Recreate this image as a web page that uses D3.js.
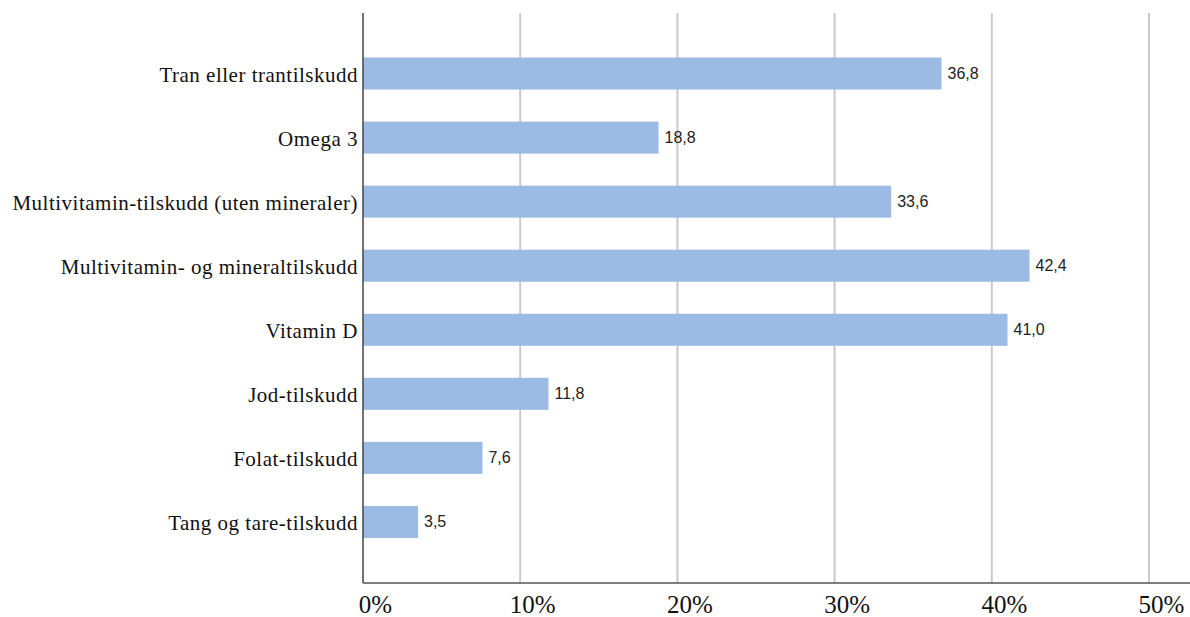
<!DOCTYPE html>
<html>
<head>
<meta charset="utf-8">
<script src="https://cdn.jsdelivr.net/npm/d3@7/dist/d3.min.js"></script>
<style>
  html, body { margin: 0; padding: 0; background: #fff; }
  svg { display: block; }
</style>
</head>
<body>
<svg id="chart" width="1190" height="617"></svg>
<script>
// Supplement categories (top to bottom) and share of users, in percent
const categories = [
  "Tran eller trantilskudd",
  "Omega 3",
  "Multivitamin-tilskudd (uten mineraler)",
  "Multivitamin- og mineraltilskudd",
  "Vitamin D",
  "Jod-tilskudd",
  "Folat-tilskudd",
  "Tang og tare-tilskudd"
];
const values = [36.8, 18.8, 33.6, 42.4, 41.0, 11.8, 7.6, 3.5];
const tickValues = [0, 10, 20, 30, 40, 50];
const tickLabels = ["0%", "10%", "20%", "30%", "40%", "50%"];

const svg = d3.select("#chart");

const plot = { left: 363, right: 1190, top: 13, bottom: 583 };

const x = d3.scaleLinear().domain([0, 50]).range([363, 1149]);
const y = d3.scaleBand()
  .domain(categories)
  .range([41.5, 554])
  .paddingInner(0.5)
  .paddingOuter(0.25);

// Vertical gridlines
svg.append("g")
  .selectAll("line")
  .data(tickValues.slice(1))
  .join("line")
  .attr("x1", d => x(d)).attr("x2", d => x(d))
  .attr("y1", plot.top).attr("y2", plot.bottom)
  .attr("stroke", "#cacaca")
  .attr("stroke-width", 2);

// Bars
svg.append("g")
  .selectAll("rect")
  .data(values)
  .join("rect")
  .attr("x", x(0))
  .attr("y", (d, i) => y(categories[i]))
  .attr("width", d => x(d) - x(0))
  .attr("height", y.bandwidth())
  .attr("fill", "#9bbbe5");

// Value labels
svg.append("g")
  .selectAll("text")
  .data(values)
  .join("text")
  .attr("x", d => x(d) + 6)
  .attr("y", (d, i) => y(categories[i]) + y.bandwidth() / 2 + 5.5)
  .attr("font-family", "'Liberation Sans', Arial, sans-serif")
  .attr("font-size", 16)
  .attr("fill", "#222")
  .text(d => d.toFixed(1).replace(".", ","));

// Category axis
const yAxis = d3.axisLeft(y).tickSize(0).tickPadding(5);
const gy = svg.append("g")
  .attr("transform", `translate(${plot.left},0)`)
  .call(yAxis);
gy.select(".domain").remove();
gy.selectAll("text")
  .attr("font-family", "'Liberation Serif', 'Times New Roman', serif")
  .attr("font-size", 21)
  .attr("letter-spacing", "0.5px")
  .attr("fill", "#111")
  .attr("dy", "0.4em");

svg.append("line")
  .attr("x1", plot.left).attr("x2", plot.left)
  .attr("y1", plot.top).attr("y2", plot.bottom)
  .attr("stroke", "#444").attr("stroke-width", 1.5);

// Percent axis
const xAxis = d3.axisBottom(x)
  .tickValues(tickValues)
  .tickSize(0)
  .tickPadding(0)
  .tickFormat((d, i) => tickLabels[i]);
const gx = svg.append("g")
  .attr("transform", `translate(0,${plot.bottom})`)
  .call(xAxis);
gx.select(".domain").remove();
gx.selectAll("text")
  .attr("font-family", "'Liberation Serif', 'Times New Roman', serif")
  .attr("font-size", 25)
  .attr("fill", "#111")
  .attr("x", 12)
  .attr("dy", "1.2em");

svg.append("line")
  .attr("x1", plot.left).attr("x2", plot.right)
  .attr("y1", plot.bottom).attr("y2", plot.bottom)
  .attr("stroke", "#555").attr("stroke-width", 1.5);
</script>
</body>
</html>
